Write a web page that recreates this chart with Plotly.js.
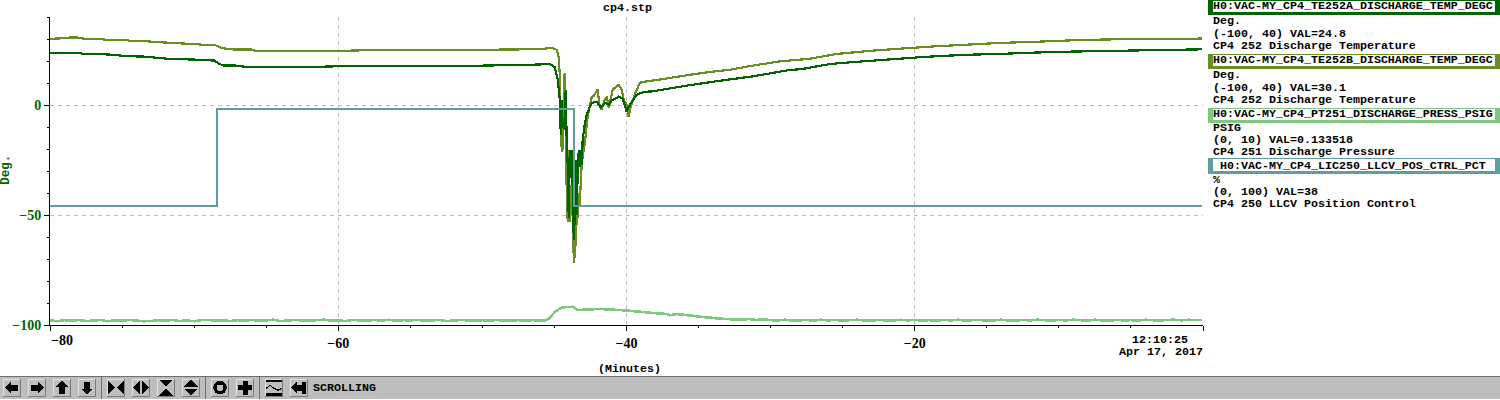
<!DOCTYPE html>
<html><head><meta charset="utf-8">
<script src="https://cdn.plot.ly/plotly-3.0.1.min.js"></script>
<style>
html,body{margin:0;padding:0;background:#fff;overflow:hidden}
#chart{width:1500px;height:400px}
.scatterlayer path{shape-rendering:crispEdges}
.shapelayer path{shape-rendering:crispEdges}
</style></head><body><div id="chart"></div>
<script>
const teMinutesA=[-80,-78,-77.8,-76.5,-75.8,-74.7,-73.5,-71.8,-69.8,-68.6,-68.3,-68,-67.2,-66.5,-65,-62.5,-60,-55,-50,-46,-45.4,-45.0,-44.77,-44.63,-44.56,-44.5,-44.42,-44.36,-44.29,-44.22,-44.15,-44.08,-44.01,-43.94,-43.87,-43.8,-43.73,-43.66,-43.59,-43.52,-43.45,-43.38,-43.31,-43.25,-43.18,-43.11,-43.04,-42.9,-42.76,-42.62,-42.41,-42.06,-41.79,-41.51,-41.23,-41.03,-40.54,-40.26,-39.99,-39.78,-39.29,-38.74,-38.18,-35.83,-33.54,-31.25,-28.89,-27.78,-25.91,-24.31,-21.96,-19.46,-17.8,-16,-14.12,-11.83,-9.75,-7.18,-2.82,-0.05];
const teValuesA=[23.8,23.8,23.3,23.1,22.9,22.2,22,21,20.6,20.2,18.9,18,18,17.4,17.2,17.2,17.6,17.8,17.9,18.4,18.8,17.4,11.5,2.4,-13.5,2.4,-10.3,-5.8,-11.2,7,-15.8,-27.1,-51.2,-20.3,-33,-20.3,-38.5,-61.2,-50.8,-24.9,-49.9,-28,-20.3,-28,-20.3,-27.1,-15.8,-9,-4.4,-2.1,1,1.5,-1.2,1,0.1,2,3.8,2.9,-3,0.1,4.7,6,6.2,8.8,11,13,15.7,16.4,18.6,19.5,20.6,21.8,22.4,22.9,23.2,23.8,24.2,24.5,25,25.3];
const teMinutesB=[-80,-79.2,-78.6,-78.1,-77.6,-76.5,-76.2,-74.7,-74.5,-73.7,-73,-71.5,-70,-69.2,-68.5,-68.2,-67.9,-67.2,-66,-65.7,-63,-60.5,-58,-55,-52,-50,-47,-45.7,-45.2,-44.84,-44.7,-44.63,-44.59,-44.56,-44.49,-44.45,-44.42,-44.36,-44.29,-44.22,-44.18,-44.15,-44.08,-44.01,-43.94,-43.87,-43.8,-43.73,-43.66,-43.59,-43.55,-43.52,-43.45,-43.38,-43.31,-43.25,-43.18,-43.11,-42.97,-42.9,-42.76,-42.69,-42.55,-42.41,-42.27,-42,-41.86,-41.72,-41.51,-41.37,-41.23,-41.03,-40.96,-40.54,-40.33,-40.19,-39.99,-39.85,-39.71,-39.43,-39.08,-38.74,-37.77,-35.83,-34.23,-32.84,-31.25,-29.38,-27.3,-25.42,-22.93,-21.05,-18.77,-16.41,-14.12,-11.35,-9.06,-6.7,-2.54,-0.05];
const teValuesB=[30.1,30.3,30.7,30.7,30.1,30.1,29.7,29.7,29.2,29.2,28.8,28.2,27.7,27.3,27.1,26.2,25.7,25.2,25.2,24.5,24.4,24.5,24.9,24.9,25,25.1,25.3,25.6,26,25.1,21.5,13.8,2.4,-9,-21.2,-6.7,-20.3,2.4,14.7,-5.3,-24.9,-38.5,-53,-20.3,-53,-36.2,-49.9,-38.5,-71.7,-50.8,-69.4,-43,-54.4,-49.9,-39.9,-45.3,-36.2,-27.1,-20.3,-18,-9,-5.3,-0.8,3.8,4.2,7,-0.8,-2.1,2.4,3.8,-1.2,4.7,7,9.2,7,2.4,0.1,-5.3,-0.8,4.7,10.1,10.6,11.5,13.5,15,16,17.9,19.8,21,23.2,24.7,25.6,26.6,27.4,28.2,28.8,29.4,29.8,30,30.2];
const ptMinutes=[-80,-79.5,-79,-78.5,-78,-77.5,-77,-76.5,-76,-75.5,-75,-74.5,-74,-73.5,-73,-72.5,-72,-71.5,-71,-70.5,-70,-69.5,-69,-68.5,-68,-67.5,-67,-66.5,-66,-65.5,-65,-64.5,-64,-63.5,-63,-62.5,-62,-61.5,-61,-60.5,-60,-59.5,-59,-58.5,-58,-57.5,-57,-56.5,-56,-55.5,-55,-54.5,-54,-53.5,-53,-52.5,-52,-51.5,-51,-50.5,-50,-49.5,-49,-48.5,-48,-47.5,-47,-46.5,-46,-45.7,-45.33,-44.98,-44.49,-43.73,-43.38,-41.86,-39.99,-38.39,-37.21,-37,-36.52,-34.92,-33.54,-32.15,-31.5,-31,-30.5,-30,-29.5,-29,-28.5,-28,-27.5,-27,-26.5,-26,-25.5,-25,-24.5,-24,-23.5,-23,-22.5,-22,-21.5,-21,-20.5,-20,-19.5,-19,-18.5,-18,-17.5,-17,-16.5,-16,-15.5,-15,-14.5,-14,-13.5,-13,-12.5,-12,-11.5,-11,-10.5,-10,-9.5,-9,-8.5,-8,-7.5,-7,-6.5,-6,-5.5,-5,-4.5,-4,-3.5,-3,-2.5,-2,-1.5,-1,-0.5,-0.05];
const ptValues=[-97.9,-98.3,-97.8,-98.1,-97.7,-98.2,-98,-97.7,-98.3,-97.9,-98.1,-97.7,-98,-98.3,-98.2,-97.8,-98,-97.7,-98.2,-97.9,-98.3,-97.8,-97.7,-98.1,-97.9,-98.2,-97.8,-98,-97.7,-98.1,-97.9,-97.6,-98.2,-98,-97.7,-97.9,-98.1,-97.8,-97.6,-98,-97.9,-98.2,-97.7,-97.9,-98.1,-97.7,-98,-97.6,-98.1,-97.8,-97.9,-97.7,-98.1,-97.9,-97.7,-98.2,-98,-97.7,-97.9,-98.1,-97.8,-98,-97.7,-98.1,-97.9,-97.8,-98,-97.8,-97.9,-98.1,-96.8,-94.1,-92,-91.7,-93.2,-92.7,-93.4,-94.4,-95,-95.6,-95,-96.2,-97.1,-97.6,-97.3,-97.7,-97.4,-97.8,-97.9,-97.6,-98,-97.9,-97.7,-98,-97.6,-97.9,-97.7,-98,-97.8,-97.6,-97.9,-98,-97.7,-97.9,-98,-97.6,-97.9,-97.7,-98,-97.8,-98,-97.7,-97.9,-97.6,-98,-97.8,-97.7,-98,-97.9,-97.6,-97.9,-98,-97.7,-97.9,-97.6,-97.8,-98,-97.7,-97.9,-97.6,-97.8,-98,-97.6,-97.9,-98,-97.7,-97.9,-97.8,-98,-97.6,-97.8,-98,-97.7,-97.6,-97.9,-97.6,-97.8,-97.7];
const lcvMinutes=[-80,-68.42,-68.42,-43.66,-43.66,-0.05];
const lcvValues=[-46.1,-46.1,-1.7,-1.7,-46.1,-46.1];

const xTickVals=[-80,-60,-40,-20,0];
const xTickText=['','\u221260','\u221240','\u221220',''];
const yTickVals=[-100,-50,0];
const yTickText=['\u2212100','\u221250','0'];
const seriesColors=['#006400','#6B8E23','#7FC97F','#5F9EA0'];
const legendHeaders=['H0:VAC-MY_CP4_TE252A_DISCHARGE_TEMP_DEGC','H0:VAC-MY_CP4_TE252B_DISCHARGE_TEMP_DEGC','H0:VAC-MY_CP4_PT251_DISCHARGE_PRESS_PSIG','H0:VAC-MY_CP4_LIC250_LLCV_POS_CTRL_PCT'];
const legendUnits=['Deg.','Deg.','PSIG','%'];
const legendRanges=['(-100, 40) VAL=24.8','(-100, 40) VAL=30.1','(0, 10) VAL=0.133518','(0, 100) VAL=38'];
const legendNotes=['CP4 252 Discharge Temperature','CP4 252 Discharge Temperature','CP4 251 Discharge Pressure','CP4 250 LLCV Position Control'];

const M={l:50,r:297,t:17.3,b:74.7};
const PW=1500-M.l-M.r, PH=400-M.t-M.b;
const fx=x=>(x-M.l)/PW, fy=y=>(400-M.b-y)/PH;
const MONO='"Liberation Mono", monospace';
const shapes=[], annotations=[];
function rect(x0,y0,x1,y1,c){shapes.push({type:'rect',xref:'paper',yref:'paper',x0:fx(x0),x1:fx(x1),y0:fy(y0),y1:fy(y1),fillcolor:c,line:{width:0},layer:'above'});}
function poly(pts,c){shapes.push({type:'path',xref:'paper',yref:'paper',path:'M'+pts.map(p=>fx(p[0])+','+fy(p[1])).join('L')+'Z',fillcolor:c,line:{width:0},layer:'above'});}
function label(x,y,t,o){annotations.push(Object.assign({xref:'paper',yref:'paper',x:fx(x-0.7),y:fy(y+0.7),text:t,showarrow:false,xanchor:'left',yanchor:'middle',borderpad:0,font:{family:MONO,size:11.67,color:'#000',weight:'bold'}},o||{}));}

/* title and axis captions */
label(628,8,'cp4.stp',{xanchor:'center'});
label(630,369,'(Minutes)',{xanchor:'center'});
label(1161,340,'12:10:25',{xanchor:'center'});
label(1161.5,352,'Apr 17, 2017',{xanchor:'center'});
label(7,169,'Deg.',{xanchor:'center',textangle:-90,font:{family:MONO,size:12.5,color:'#006400',weight:'bold'}});
label(50.7,340,'\u221280',{font:{family:'"Liberation Serif", serif',size:14,color:'#000',weight:'bold'}});

/* side legend */
const boxTop=[0,54,108,158];
const boxBottom=[15,69,123,174];
const innerTop=[1,55,109,159];
const innerBottom=[12,66,120,171];
const rowY=[[21,34,46],[75,88,100],[128,139.5,152],[180,192,204]];
const headerY=[6,60,114,166];
legendHeaders.forEach((h,i)=>{
  rect(1208,boxTop[i],1500,boxBottom[i],seriesColors[i]);
  rect(1213,innerTop[i],1495,innerBottom[i],'#fff');
  label(1354,headerY[i],h,{xanchor:'center'});
  label(1213,rowY[i][0],legendUnits[i]);
  label(1213,rowY[i][1],legendRanges[i]);
  label(1213,rowY[i][2],legendNotes[i]);
});

/* toolbar */
rect(0,376,1500,377,'#6e6e6e');
rect(0,377,1500,399,'#bebebe');
[101,205,259].forEach(x=>rect(x,377,x+1,399,'#6e6e6e'));
const buttons=[[3,21],[28,46],[53,71],[78,96],[107,125],[132,150],[157,175],[182,200],[211,229],[236,254],[265,283],[290,308]];
buttons.forEach(b=>{
  rect(b[0],379,b[1],397,'#7a7a7a');
  rect(b[0],379,b[1]-1,396,'#e2e2e2');
  rect(b[0]+1,380,b[1]-1,396,'#bebebe');
});
const K='#000';
const cy=388;
const cx=i=>(buttons[i][0]+buttons[i][1])/2;
function at(i,pts){poly(pts.map(p=>[cx(i)+p[0],cy+p[1]]),K);}
at(0,[[-7,0],[-1,-6],[-1,-3],[6,-3],[6,3],[-1,3],[-1,6]]);
at(1,[[7,0],[1,-6],[1,-3],[-6,-3],[-6,3],[1,3],[1,6]]);
at(2,[[0,-7],[-6,-1],[-3,-1],[-3,6],[3,6],[3,-1],[6,-1]]);
at(3,[[0,7],[-6,1],[-3,1],[-3,-6],[3,-6],[3,1],[6,1]]);
at(4,[[-8,-7],[-1,0],[-8,7]]); at(4,[[8,-7],[1,0],[8,7]]);
at(5,[[-1,-7],[-8,0],[-1,7]]); at(5,[[1,-7],[8,0],[1,7]]);
at(6,[[-7,-8],[0,-1],[7,-8]]); at(6,[[-7,8],[0,1],[7,8]]);
at(7,[[-7,-1],[0,-8],[7,-1]]); at(7,[[-7,1],[0,8],[7,1]]);
shapes.push({type:'circle',xref:'paper',yref:'paper',x0:fx(cx(8)-5),x1:fx(cx(8)+5),y0:fy(cy-5),y1:fy(cy+5),fillcolor:'rgba(0,0,0,0)',line:{color:K,width:3.5},layer:'above'});
at(9,[[-2.5,-7],[2.5,-7],[2.5,-2.5],[7,-2.5],[7,2.5],[2.5,2.5],[2.5,7],[-2.5,7],[-2.5,2.5],[-7,2.5],[-7,-2.5],[-2.5,-2.5]]);
rect(cx(10)-8,380,cx(10)+8,382.5,K);
rect(cx(10)-8,393.5,cx(10)+8,396,K);
[[-8,0,-4,-3],[-4,-3,0,0],[0,0,4,2],[4,2,8,0]].forEach(s=>at(10,[[s[0],s[1]],[s[2],s[3]],[s[2],s[3]+1.2],[s[0],s[1]+1.2]]));
at(11,[[-8,0],[-2,-6],[-2,-3],[3,-3],[3,-6],[7,-6],[7,6],[3,6],[3,3],[-2,3],[-2,6]]);
label(313,388,'SCROLLING');

const traces=[
 {x:teMinutesB,y:teValuesB,c:1,w:2.2},{x:teMinutesA,y:teValuesA,c:0,w:2.2},
 {x:ptMinutes,y:ptValues,c:2,w:2.6},{x:lcvMinutes,y:lcvValues,c:3,w:2}
].map(s=>({x:s.x,y:s.y,type:'scatter',mode:'lines',line:{color:seriesColors[s.c],width:s.w,simplify:false},hoverinfo:'skip',showlegend:false}));

const layout={
 width:1500,height:400,margin:M,paper_bgcolor:'#fff',plot_bgcolor:'#fff',showlegend:false,
 xaxis:{range:[-80,0],tickmode:'array',tickvals:xTickVals,ticktext:xTickText,ticks:'outside',ticklen:5,tickcolor:'#000',tickwidth:1,
   showline:true,linecolor:'#000',linewidth:1,showgrid:true,gridcolor:'#bebebe',griddash:'4px,4px',gridwidth:1,zeroline:false,
   minor:{tickmode:'linear',tick0:0,dtick:5,ticks:'outside',ticklen:2,tickcolor:'#000',showgrid:false},
   tickfont:{family:'"Liberation Serif", serif',size:14,color:'#000',weight:'bold'},fixedrange:true},
 yaxis:{range:[-100,40],tickmode:'array',tickvals:yTickVals,ticktext:yTickText,ticks:'outside',ticklen:5,tickcolor:'#000',tickwidth:1,
   showline:true,linecolor:'#000',linewidth:1,showgrid:true,gridcolor:'#bebebe',griddash:'4px,4px',gridwidth:1,zeroline:false,
   minor:{tickmode:'linear',tick0:0,dtick:10,ticks:'outside',ticklen:2,tickcolor:'#000',showgrid:false},
   tickfont:{family:'"Liberation Serif", serif',size:14,color:'#006400',weight:'bold'},fixedrange:true},
 shapes:shapes,annotations:annotations
};
Plotly.newPlot('chart',traces,layout,{displayModeBar:false,staticPlot:true});
</script></body></html>
